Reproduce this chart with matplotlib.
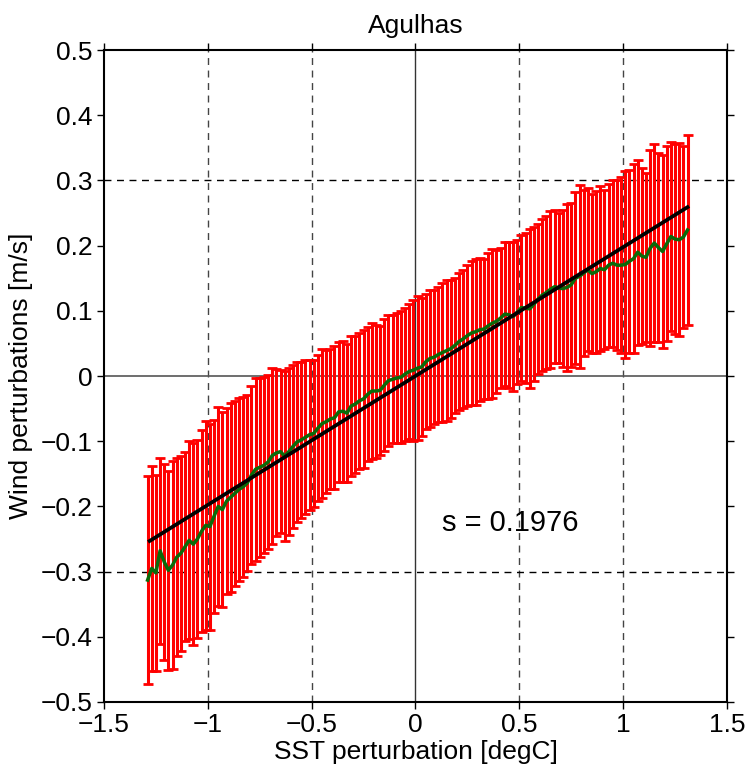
"""
Agulhas: wind perturbation vs SST perturbation, binned mean +/- std with linear fit.
"""
import numpy as np
import matplotlib
matplotlib.use("Agg")
import matplotlib.pyplot as plt

plt.rcParams["font.family"] = ["Liberation Sans", "DejaVu Sans"]

# SST bin centres (degC)
sst_bins = np.round(np.arange(-1.29, 1.3101, 0.02), 2)

# mean wind perturbation in each bin (m/s)
wind_mean = [
    -0.313, -0.295, -0.302, -0.268, -0.285, -0.298, -0.290, -0.278, -0.272, -0.262,
    -0.252, -0.258, -0.250, -0.238, -0.229, -0.231, -0.215, -0.200, -0.205, -0.192,
    -0.186, -0.180, -0.174, -0.170, -0.164, -0.152, -0.143, -0.140, -0.137, -0.132,
    -0.122, -0.118, -0.116, -0.123, -0.116, -0.108, -0.101, -0.098, -0.094, -0.090,
    -0.088, -0.080, -0.073, -0.070, -0.066, -0.064, -0.055, -0.054, -0.057, -0.046,
    -0.043, -0.038, -0.035, -0.028, -0.023, -0.023, -0.022, -0.014, -0.007, -0.005,
    -0.003, -0.002, 0.003, 0.007, 0.009, 0.012, 0.014, 0.022, 0.027, 0.029,
    0.033, 0.036, 0.039, 0.042, 0.047, 0.053, 0.057, 0.062, 0.066, 0.068,
    0.071, 0.072, 0.077, 0.081, 0.084, 0.089, 0.095, 0.094, 0.091, 0.098,
    0.105, 0.104, 0.103, 0.110, 0.118, 0.124, 0.128, 0.133, 0.137, 0.135,
    0.134, 0.136, 0.140, 0.150, 0.153, 0.158, 0.163, 0.157, 0.160, 0.165,
    0.163, 0.170, 0.173, 0.170, 0.170, 0.171, 0.176, 0.180, 0.190, 0.184,
    0.182, 0.196, 0.204, 0.197, 0.191, 0.203, 0.214, 0.210, 0.209, 0.213,
    0.224,
]

# standard deviation in each bin (m/s)
wind_std = [
    0.160, 0.157, 0.150, 0.143, 0.150, 0.153, 0.160, 0.152, 0.150, 0.145,
    0.152, 0.155, 0.152, 0.155, 0.160, 0.158, 0.148, 0.152, 0.150, 0.143,
    0.145, 0.142, 0.140, 0.138, 0.135, 0.137, 0.140, 0.137, 0.135, 0.133,
    0.135, 0.128, 0.125, 0.130, 0.128, 0.125, 0.123, 0.120, 0.118, 0.115,
    0.113, 0.112, 0.114, 0.110, 0.108, 0.110, 0.107, 0.108, 0.106, 0.108,
    0.105, 0.104, 0.106, 0.103, 0.105, 0.102, 0.099, 0.101, 0.100, 0.098,
    0.100, 0.101, 0.102, 0.104, 0.108, 0.110, 0.106, 0.104, 0.105, 0.103,
    0.104, 0.106, 0.108, 0.106, 0.104, 0.105, 0.106, 0.108, 0.110, 0.112,
    0.110, 0.108, 0.112, 0.114, 0.110, 0.108, 0.110, 0.112, 0.114, 0.110,
    0.112, 0.115, 0.122, 0.118, 0.115, 0.117, 0.118, 0.120, 0.117, 0.115,
    0.120, 0.128, 0.126, 0.132, 0.140, 0.128, 0.125, 0.122, 0.124, 0.126,
    0.122, 0.125, 0.128, 0.130, 0.135, 0.143, 0.140, 0.145, 0.142, 0.135,
    0.130, 0.150, 0.152, 0.145, 0.148, 0.150, 0.145, 0.146, 0.148, 0.140,
    0.146,
]

# linear fit end points
fit_x = [-1.28, 1.31]
fit_y = [-0.253, 0.259]
slope_label = "s = 0.1976"

assert len(sst_bins) == len(wind_mean) == len(wind_std)

fig = plt.figure(figsize=(7.46, 7.71), dpi=100)
ax = fig.add_axes([0.1394, 0.0895, 0.8351, 0.8456])

# reference lines
for xv in [-1, -0.5, 0.5, 1]:
    ax.axvline(xv, color="#444444", ls=(0, (5, 4)), lw=1.0, zorder=1)
for yv in [-0.3, 0.3]:
    ax.axhline(yv, color="black", ls=(0, (5, 4)), lw=1.0, zorder=1)
ax.axvline(0, color="#333333", lw=1.0, zorder=1)
ax.axhline(0, color="#555555", lw=1.2, zorder=1)

ax.errorbar(sst_bins, wind_mean, yerr=wind_std, fmt="none", ecolor="red",
            elinewidth=2.2, capsize=3.5, capthick=2.0, zorder=2)
ax.plot(sst_bins, wind_mean, color="#0a6b0a", lw=2.5, zorder=3)
ax.plot(fit_x, fit_y, color="black", lw=2.7, zorder=4)

ax.text(0.13, -0.225, slope_label, fontsize=21, va="center", ha="left")

ax.set_xlim(-1.5, 1.5)
ax.set_ylim(-0.5, 0.5)
ax.set_xticks([-1.5, -1, -0.5, 0, 0.5, 1, 1.5])
ax.set_xticklabels(["\u22121.5", "\u22121", "\u22120.5", "0", "0.5", "1", "1.5"])
ax.set_yticks(np.round(np.arange(-0.5, 0.51, 0.1), 1))
ax.set_yticklabels(["\u22120.5", "\u22120.4", "\u22120.3", "\u22120.2", "\u22120.1",
                    "0", "0.1", "0.2", "0.3", "0.4", "0.5"])
ax.tick_params(direction="out", length=5, width=1, labelsize=19,
               top=True, right=True, pad=3)
for sp in ax.spines.values():
    sp.set_linewidth(1.5)

ax.set_title("Agulhas", fontsize=19, pad=12)
ax.set_xlabel("SST perturbation [degC]", fontsize=19, labelpad=2)
ax.set_ylabel("Wind perturbations [m/s]", fontsize=19, labelpad=6)

fig.savefig("out.png", dpi=100)
